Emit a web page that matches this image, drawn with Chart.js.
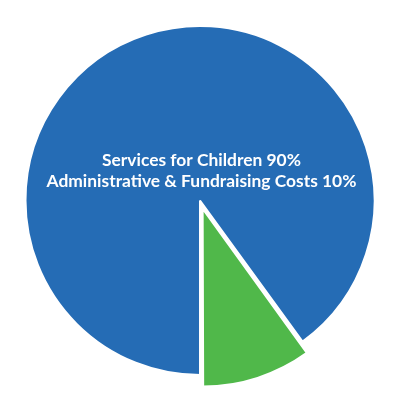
<!DOCTYPE html>
<html>
<head>
<meta charset="utf-8">
<script src="https://cdn.jsdelivr.net/npm/chart.js@4"></script>
<style>
html,body{margin:0;padding:0;background:#fff;}
#wrap{width:400px;height:410px;}
</style>
</head>
<body>
<div id="wrap"><canvas id="c"></canvas></div>
<script>
const categories = ["Services for Children", "Administrative & Fundraising Costs"];
const values = [90, 10];
const colors = ["#256CB5", "#50B84A"];
const offsets = [0, 34];

const centerText = {
  id: 'centerText',
  afterDatasetsDraw(chart) {
    const ctx = chart.ctx;
    ctx.save();
    ctx.fillStyle = '#ffffff';
    ctx.font = 'bold 17.4px Lato';
    ctx.textAlign = 'center';
    ctx.textBaseline = 'alphabetic';
    const cx = 201.5;
    categories.forEach((c, i) => {
      ctx.fillText(c + ' ' + values[i] + '%', cx, 166 + i * 21);
    });
    ctx.restore();
  }
};

new Chart(document.getElementById('c'), {
  type: 'pie',
  data: {
    labels: categories,
    datasets: [{
      data: values,
      backgroundColor: colors,
      borderColor: '#ffffff',
      borderWidth: 2,
      offset: offsets,
      radius: 174.5,
      rotation: 180
    }]
  },
  options: {
    responsive: true,
    maintainAspectRatio: false,
    animation: false,
    layout: { padding: { top: 0, bottom: 9, left: 0, right: 0 } },
    plugins: { legend: { display: false }, tooltip: { enabled: false } },
    events: []
  },
  plugins: [centerText]
});
</script>
</body>
</html>
